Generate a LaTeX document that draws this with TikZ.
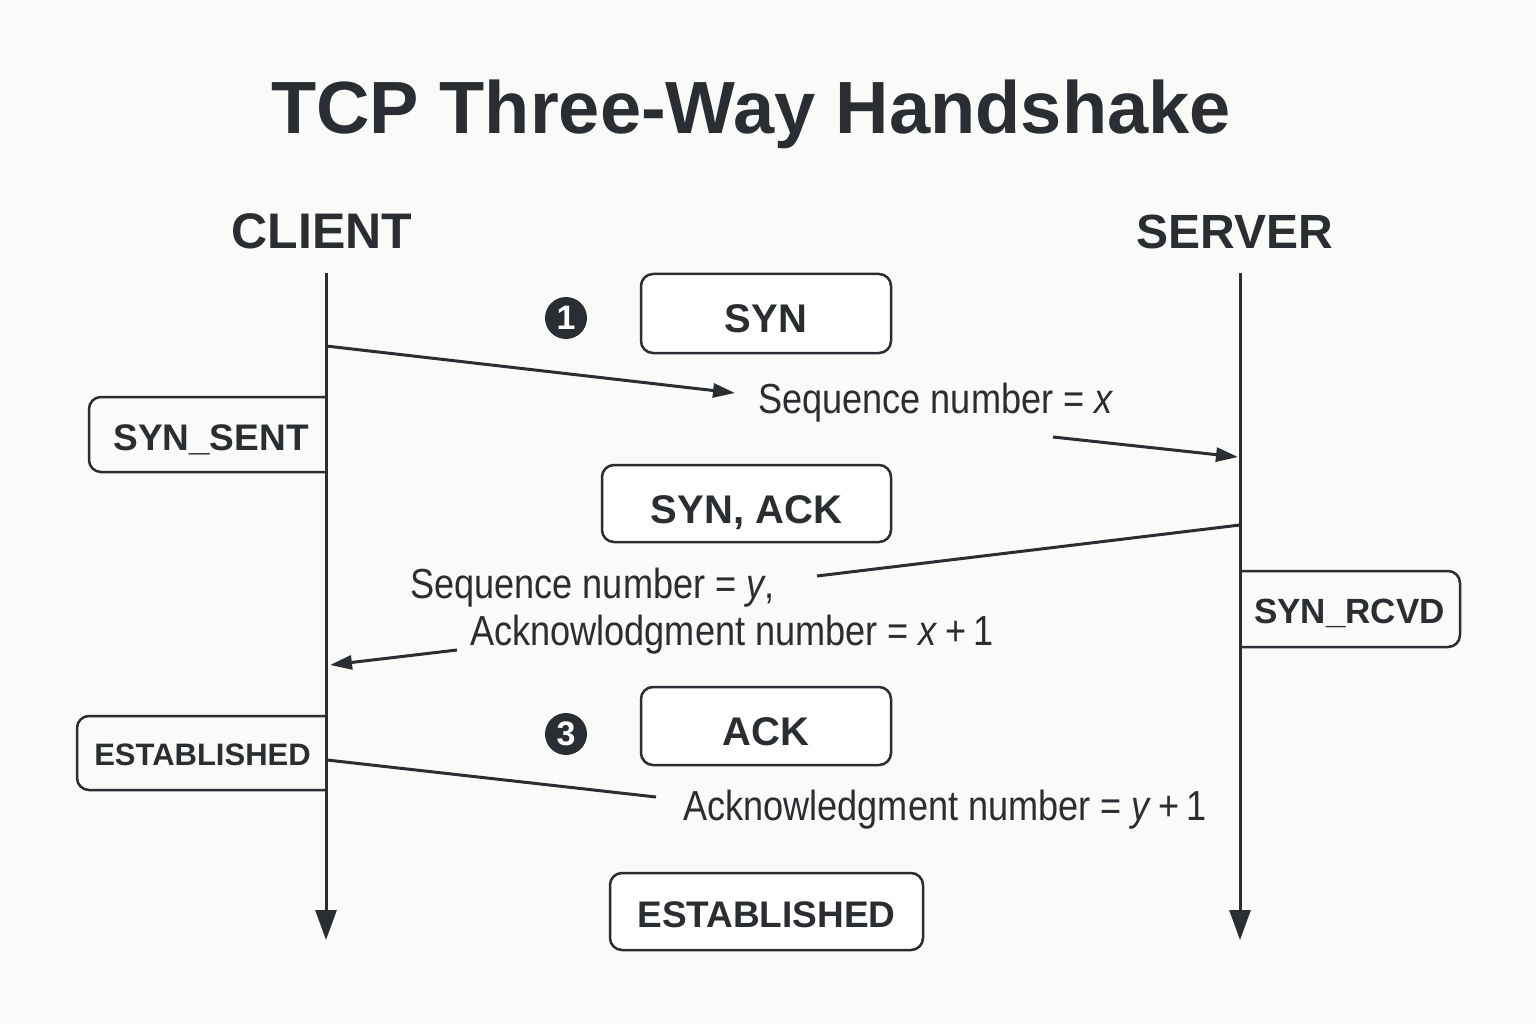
\documentclass[tikz,border=0pt]{standalone}
\usepackage{fontspec}
\setmainfont{Liberation Sans}
\newfontfamily\condfont[FakeStretch=0.86]{Liberation Sans}
\usetikzlibrary{arrows.meta}
\definecolor{ink}{HTML}{2A2D32}
\definecolor{bg}{HTML}{FAFAF8}
\tikzset{
  lifeline/.style={draw=ink, line width=3pt, -{Triangle[length=30pt,width=21pt]}},
  msgline/.style={draw=ink, line width=3pt},
  msgarrow/.style={draw=ink, line width=3pt, -{Triangle[length=22pt,width=14pt]}},
  msgbox/.style={draw=ink, line width=2.5pt, rounded corners=12pt, fill=white, text=ink,
    font=\fontsize{40}{44}\selectfont\bfseries, text height=38pt, text depth=0pt, inner sep=0pt},
  statelabel/.style={text=ink, inner sep=0pt, text depth=0pt},
  statebox/.style={draw=ink, line width=2.5pt, rounded corners=12pt},
  msgtext/.style={text=ink, inner sep=0pt, anchor=base west, font=\condfont\fontsize{42}{48}\selectfont},
  stepmark/.style={circle, fill=ink, text=white, minimum size=42pt, inner sep=0pt,
    font=\fontsize{34}{36}\selectfont\bfseries},
  header/.style={text=ink, inner sep=0pt, anchor=base, font=\fontsize{50}{56}\selectfont\bfseries}
}
\begin{document}
\begin{tikzpicture}[x=1pt,y=-1pt]
\fill[bg] (0,0) rectangle (1536,1024);
\useasboundingbox (0,0) rectangle (1536,1024);

% title and headers
\node[text=ink, inner sep=0pt, anchor=base, font=\fontsize{74}{80}\selectfont\bfseries] (title) at (751,134) {TCP Three-Way Handshake};
\node[header] (client) at (322,249) {CLIENT};
\node[header, font=\fontsize{48}{56}\selectfont\bfseries] (server) at (1235,249) {SERVER};

% lifelines
\coordinate (cTop) at (326,273);
\coordinate (cBot) at (326,940);
\coordinate (sTop) at (1240,273);
\coordinate (sBot) at (1240,940);

% state boxes on client side
\node[statelabel, font=\fontsize{37}{40}\selectfont\bfseries, text height=32pt] (synsent) at (211,434.5) {SYN\_SENT};
\draw[statebox] (326,397) -- (89,397) -- (89,472) -- (326,472);
\node[statelabel, font=\fontsize{31}{36}\selectfont\bfseries, text height=25pt] (estc) at (202.5,753) {ESTABLISHED};
\draw[statebox] (326,716) -- (77,716) -- (77,790) -- (326,790);
% state box on server side
\node[statelabel, font=\fontsize{35}{40}\selectfont\bfseries, text height=29pt] (synrcvd) at (1349.5,609) {SYN\_RCVD};
\draw[statebox] (1240,571) -- (1460,571) -- (1460,647) -- (1240,647);

\draw[lifeline] (cTop) -- (cBot);
\draw[lifeline] (sTop) -- (sBot);

% message boxes
\node[msgbox, minimum width=250pt, minimum height=79pt] (syn) at (766,313.5) {SYN};
\node[msgbox, minimum width=289pt, minimum height=77pt, text height=40pt] (synack) at (746.5,503.5) {SYN, ACK};
\node[msgbox, minimum width=250pt, minimum height=78pt] (ack) at (766,726) {ACK};
\node[msgbox, minimum width=313pt, minimum height=77pt, font=\fontsize{37}{40}\selectfont\bfseries, text height=32pt] (ests) at (766.5,911.5) {ESTABLISHED};

% step markers
\node[stepmark] (m1) at (566,318) {1};
\node[stepmark] (m3) at (566,734) {3};

% message texts
\node[msgtext] (t1) at (758,413) {Sequence number = \textit{x}};
\node[msgtext] (t2a) at (410,598) {Sequence number = \textit{y},};
\node[msgtext] (t2b) at (470,645) {Acknowlodgment number = \textit{x}\,+\,1};
\node[msgtext] (t3) at (683,820) {Acknowledgment number = \textit{y}\,+\,1};

% connector end points
\coordinate (c1) at (326,346);
\coordinate (e1) at (735,393);
\coordinate (b1) at (1053,437);
\coordinate (s1) at (1238,457);
\coordinate (s2) at (1240,525);
\coordinate (e2) at (817,576);
\coordinate (b2) at (457,650);
\coordinate (c2) at (330,665);
\coordinate (c3) at (327,760);
\coordinate (e3) at (656,797);

\draw[msgarrow] (c1) -- (e1);
\draw[msgarrow] (b1) -- (s1);
\draw[msgline] (s2) -- (e2);
\draw[msgarrow] (b2) -- (c2);
\draw[msgline] (c3) -- (e3);
\end{tikzpicture}
\end{document}
